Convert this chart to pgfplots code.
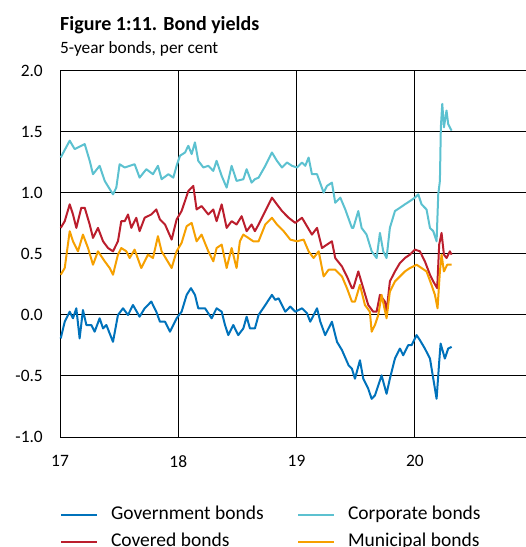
\documentclass[border=0pt]{standalone}
\usepackage{fontspec}
\setmainfont{Carlito}
\usepackage{pgfplots}
\pgfplotsset{compat=1.18}
\usepackage{pgfplotstable}
\definecolor{gov}{RGB}{0,114,187}
\definecolor{corp}{RGB}{92,193,208}
\definecolor{cov}{RGB}{187,30,45}
\definecolor{muni}{RGB}{246,160,0}

\pgfplotstableread{
x y
17.006 -0.192
17.040 -0.055
17.082 0.027
17.110 -0.027
17.138 0.055
17.166 -0.192
17.194 0.041
17.223 -0.082
17.265 -0.082
17.293 -0.137
17.335 -0.027
17.364 -0.110
17.392 -0.082
17.448 -0.220
17.490 0.000
17.533 0.055
17.575 0.000
17.617 0.082
17.673 -0.014
17.716 0.055
17.772 0.110
17.814 0.027
17.845 -0.055
17.888 -0.055
17.930 -0.137
17.958 -0.082
17.986 -0.027
18.028 0.027
18.071 0.165
18.107 0.220
18.141 0.165
18.169 0.055
18.226 0.055
18.282 -0.027
18.324 0.055
18.367 0.027
18.395 -0.082
18.423 -0.165
18.465 -0.082
18.507 -0.165
18.550 -0.110
18.578 -0.014
18.606 -0.110
18.648 -0.110
18.679 0.000
18.736 0.082
18.792 0.165
18.820 0.124
18.848 0.137
18.905 0.027
18.947 0.069
18.989 0.027
19.046 0.055
19.088 0.014
19.116 -0.055
19.173 0.055
19.201 -0.055
19.242 -0.165
19.299 -0.055
19.342 -0.220
19.384 -0.288
19.440 -0.412
19.468 -0.440
19.494 -0.522
19.536 -0.371
19.564 -0.522
19.606 -0.604
19.635 -0.687
19.663 -0.659
19.691 -0.577
19.719 -0.495
19.761 -0.646
19.789 -0.522
19.832 -0.357
19.874 -0.275
19.902 -0.330
19.944 -0.247
19.973 -0.247
20.015 -0.165
20.043 -0.206
20.085 -0.275
20.128 -0.357
20.156 -0.522
20.184 -0.687
20.206 -0.385
20.218 -0.234
20.254 -0.357
20.282 -0.275
20.311 -0.261
}\govtable

\pgfplotstableread{
x y
17.006 1.291
17.082 1.429
17.124 1.360
17.209 1.401
17.251 1.264
17.279 1.154
17.335 1.223
17.378 1.099
17.448 0.989
17.476 1.044
17.504 1.236
17.547 1.209
17.631 1.236
17.673 1.126
17.730 1.195
17.786 1.154
17.828 1.223
17.859 1.113
17.916 1.154
17.958 1.126
17.986 1.223
18.014 1.305
18.057 1.332
18.085 1.387
18.113 1.319
18.141 1.415
18.169 1.264
18.212 1.209
18.254 1.223
18.296 1.181
18.324 1.264
18.367 1.140
18.409 1.044
18.451 1.223
18.493 1.099
18.550 1.113
18.578 1.195
18.620 1.085
18.648 1.113
18.679 1.126
18.736 1.223
18.792 1.332
18.834 1.264
18.877 1.209
18.919 1.250
18.961 1.223
19.003 1.209
19.046 1.250
19.074 1.223
19.102 1.291
19.130 1.154
19.173 1.154
19.229 1.003
19.257 1.058
19.299 1.085
19.327 0.920
19.370 0.962
19.412 0.865
19.468 0.714
19.480 0.714
19.522 0.852
19.550 0.714
19.592 0.659
19.635 0.522
19.677 0.467
19.705 0.673
19.733 0.522
19.761 0.467
19.789 0.714
19.832 0.852
19.874 0.879
19.916 0.907
19.959 0.934
20.001 0.962
20.029 0.989
20.057 0.907
20.099 0.865
20.128 0.714
20.156 0.687
20.184 0.604
20.198 0.989
20.212 1.099
20.220 1.538
20.232 1.731
20.246 1.538
20.268 1.676
20.282 1.566
20.296 1.538
20.311 1.511
}\corptable

\pgfplotstableread{
x y
17.006 0.714
17.040 0.769
17.082 0.907
17.110 0.824
17.138 0.714
17.180 0.879
17.209 0.879
17.251 0.742
17.279 0.632
17.321 0.714
17.364 0.604
17.406 0.549
17.448 0.522
17.490 0.604
17.518 0.769
17.547 0.769
17.575 0.824
17.603 0.714
17.645 0.797
17.673 0.687
17.716 0.797
17.772 0.824
17.814 0.865
17.845 0.783
17.888 0.742
17.944 0.618
17.986 0.783
18.028 0.852
18.085 1.016
18.127 1.058
18.155 0.865
18.197 0.893
18.254 0.824
18.296 0.865
18.324 0.769
18.367 0.907
18.409 0.714
18.451 0.769
18.493 0.742
18.536 0.810
18.578 0.687
18.620 0.742
18.648 0.687
18.679 0.742
18.736 0.852
18.792 0.962
18.834 0.907
18.877 0.852
18.933 0.797
18.989 0.755
19.046 0.797
19.088 0.728
19.130 0.659
19.173 0.714
19.215 0.549
19.257 0.577
19.299 0.604
19.327 0.467
19.384 0.398
19.426 0.316
19.468 0.220
19.480 0.220
19.522 0.357
19.564 0.220
19.606 0.082
19.648 0.027
19.677 0.027
19.705 0.165
19.747 0.110
19.761 0.027
19.789 0.275
19.832 0.357
19.874 0.426
19.916 0.467
19.959 0.495
20.001 0.536
20.043 0.522
20.085 0.440
20.128 0.330
20.156 0.275
20.189 0.220
20.206 0.577
20.226 0.673
20.246 0.495
20.268 0.467
20.296 0.522
20.311 0.495
}\covtable

\pgfplotstableread{
x y
17.006 0.330
17.040 0.385
17.082 0.687
17.110 0.604
17.152 0.522
17.194 0.659
17.237 0.549
17.279 0.412
17.321 0.522
17.378 0.440
17.420 0.385
17.448 0.330
17.490 0.495
17.518 0.549
17.561 0.522
17.589 0.467
17.631 0.536
17.687 0.385
17.744 0.495
17.786 0.467
17.828 0.646
17.859 0.522
17.902 0.453
17.944 0.385
17.986 0.522
18.028 0.591
18.071 0.728
18.113 0.755
18.155 0.604
18.197 0.659
18.254 0.522
18.296 0.440
18.324 0.549
18.367 0.577
18.409 0.385
18.451 0.549
18.493 0.385
18.521 0.604
18.550 0.659
18.592 0.632
18.634 0.604
18.679 0.604
18.736 0.742
18.792 0.797
18.834 0.742
18.891 0.687
18.947 0.618
19.003 0.604
19.060 0.618
19.102 0.522
19.144 0.467
19.187 0.522
19.229 0.316
19.271 0.371
19.327 0.371
19.384 0.316
19.426 0.220
19.468 0.110
19.494 0.110
19.536 0.247
19.578 0.082
19.620 0.027
19.635 -0.137
19.663 -0.082
19.691 0.000
19.719 0.165
19.761 -0.027
19.789 0.192
19.832 0.275
19.874 0.316
19.916 0.357
19.959 0.385
20.015 0.412
20.057 0.385
20.099 0.357
20.141 0.247
20.170 0.165
20.192 0.055
20.212 0.357
20.226 0.495
20.246 0.357
20.274 0.412
20.311 0.412
}\munitable

\begin{document}
\begin{tikzpicture}
\begin{axis}[
  at={(60bp,110bp)}, anchor=south west,
  scale only axis,
  width=466bp, height=366bp,
  xmin=17, xmax=20.94,
  ymin=-1, ymax=2,
  xtick={17,18,19,20},
  ytick={-1,-0.5,0,0.5,1,1.5,2},
  xticklabels={17,18,19,20},
  /pgf/number format/fixed,
  /pgf/number format/fixed zerofill,
  /pgf/number format/precision=1,
  /pgf/number format/assume math mode=true,
  major tick length=0pt,
  axis line style={draw=none},
  grid=major,
  major grid style={black, line width=1bp},
  tick label style={font=\fontsize{17.4bp}{20bp}\selectfont, inner sep=0pt},
  yticklabel style={anchor=east, xshift=-17bp},
  xticklabel style={anchor=north, yshift=-18bp},
  clip=false,
  legend columns=2,
  legend style={at={(axis description cs:0,-0.250)}, anchor=west,
    draw=none, fill=none, inner sep=0pt, outer sep=0pt,
    font=\fontsize{19.5bp}{22bp}\selectfont,
    nodes={inner sep=0pt, text height=14bp, text depth=5bp},
    row sep=8bp,
    /tikz/every odd column/.append style={column sep=13bp},
    /tikz/every even column/.append style={column sep=0bp}},
  legend cell align=left,
  legend image code/.code={\draw[#1] (0bp,0bp) -- (36bp,0bp);},
  every axis plot/.append style={line width=2bp, line join=round},
]
\addplot[gov, no markers] table {\govtable};
\addlegendentry{\makebox[186bp][l]{Government bonds}}
\addplot[corp, no markers] table {\corptable};
\addlegendentry{Corporate bonds}
\addplot[cov, no markers] table {\covtable};
\addlegendentry{\makebox[186bp][l]{Covered bonds}}
\addplot[muni, no markers] table {\munitable};
\addlegendentry{Municipal bonds}
\end{axis}
\node[anchor=base west, inner sep=0pt, font=\bfseries\fontsize{20bp}{24bp}\selectfont] at (60bp,516bp) {Figure 1:11. Bond yields};
\node[anchor=base west, inner sep=0pt, font=\fontsize{17.3bp}{20bp}\selectfont] at (60bp,493bp) {5-year bonds, per cent};
\pgfresetboundingbox
\useasboundingbox (0,0) rectangle (526bp,547bp);
\end{tikzpicture}
\end{document}
